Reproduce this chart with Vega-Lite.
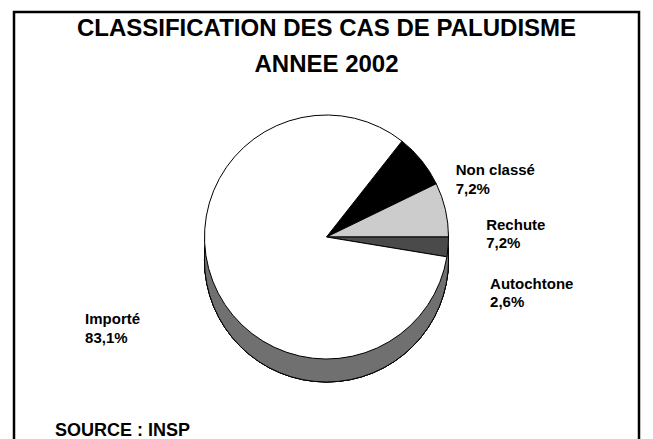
{
  "$schema": "https://vega.github.io/schema/vega-lite/v6.json",
  "width": 653,
  "height": 439,
  "autosize": {"type": "fit", "contains": "padding"},
  "padding": {"left": 14, "right": 14, "top": 12, "bottom": -3},
  "background": "white",
  "view": {"stroke": "black", "strokeWidth": 2.5, "fill": "white"},
  "config": {"view": {"stroke": "black", "strokeWidth": 2.5}, "font": "Liberation Sans"},
  "title": {
    "text": ["CLASSIFICATION DES CAS DE PALUDISME", "ANNEE 2002"],
    "font": "Liberation Sans",
    "fontSize": 24,
    "fontWeight": "bold",
    "color": "black",
    "lineHeight": 36,
    "anchor": "middle",
    "frame": "group",
    "offset": -65
  },
  "data": {
    "values": [
      {"classe": "Non classé", "valeur": 7.2, "ordre": 1, "label": "Non classé\n7,2%"},
      {"classe": "Rechute", "valeur": 7.2, "ordre": 2, "label": "Rechute\n7,2%"},
      {"classe": "Autochtone", "valeur": 2.6, "ordre": 3, "label": "Autochtone\n2,6%"},
      {"classe": "Importé", "valeur": 83.1, "ordre": 4, "label": "Importé\n83,1%"}
    ]
  },
  "layer": [
    {"mark": {"type": "arc", "theta": 0, "theta2": 6.2832, "radius": 122, "fill": "#707070", "yOffset": 14}, "encoding": {}},
    {"mark": {"type": "arc", "theta": 0, "theta2": 6.2832, "radius": 122, "fill": "#707070", "yOffset": 18}, "encoding": {}},
    {"mark": {"type": "arc", "theta": 0, "theta2": 6.2832, "radius": 122, "fill": "#707070", "yOffset": 22}, "encoding": {}},
    {"mark": {"type": "arc", "theta": 0, "theta2": 6.2832, "radius": 122, "fill": "#707070", "yOffset": 26}, "encoding": {}},
    {"mark": {"type": "arc", "theta": 0, "theta2": 6.2832, "radius": 122, "fill": "#707070", "yOffset": 30}, "encoding": {}},
    {"mark": {"type": "arc", "theta": 0, "theta2": 6.2832, "radius": 122, "fill": "#707070", "stroke": "black", "strokeWidth": 1, "yOffset": 33}, "encoding": {}},
    {
      "mark": {"type": "arc", "radius": 122, "stroke": "black", "strokeWidth": 1, "yOffset": 10},
      "encoding": {
        "theta": {"field": "valeur", "type": "quantitative", "stack": true, "scale": {"range": [0.667, 6.95]}},
        "order": {"field": "ordre"},
        "color": {
          "field": "classe",
          "type": "nominal",
          "scale": {"domain": ["Non classé", "Rechute", "Autochtone", "Importé"], "range": ["#000000", "#cccccc", "#4a4a4a", "#ffffff"]},
          "legend": null
        }
      }
    },
    {
      "mark": {"type": "text", "radius": 130, "dx": 28, "dy": 25, "align": "left", "baseline": "middle", "font": "Liberation Sans", "fontWeight": "bold", "fontSize": 15, "lineHeight": 18.5, "lineBreak": "\n", "color": "black"},
      "encoding": {
        "theta": {"field": "valeur", "type": "quantitative", "stack": true},
        "order": {"field": "ordre"},
        "text": {"condition": {"test": "datum.classe === 'Non classé'", "field": "label"}, "value": ""}
      }
    },
    {
      "mark": {"type": "text", "radius": 130, "dx": 33, "dy": 27, "align": "left", "baseline": "middle", "font": "Liberation Sans", "fontWeight": "bold", "fontSize": 15, "lineHeight": 18.5, "lineBreak": "\n", "color": "black"},
      "encoding": {
        "theta": {"field": "valeur", "type": "quantitative", "stack": true},
        "order": {"field": "ordre"},
        "text": {"condition": {"test": "datum.classe === 'Rechute'", "field": "label"}, "value": ""}
      }
    },
    {
      "mark": {"type": "text", "radius": 130, "dx": 34, "dy": 46, "align": "left", "baseline": "middle", "font": "Liberation Sans", "fontWeight": "bold", "fontSize": 15, "lineHeight": 18.5, "lineBreak": "\n", "color": "black"},
      "encoding": {
        "theta": {"field": "valeur", "type": "quantitative", "stack": true},
        "order": {"field": "ordre"},
        "text": {"condition": {"test": "datum.classe === 'Autochtone'", "field": "label"}, "value": ""}
      }
    },
    {
      "mark": {"type": "text", "radius": 200, "dx": -55, "dy": 20, "align": "left", "baseline": "middle", "font": "Liberation Sans", "fontWeight": "bold", "fontSize": 15, "lineHeight": 18.5, "lineBreak": "\n", "color": "black"},
      "encoding": {
        "theta": {"field": "valeur", "type": "quantitative", "stack": true},
        "order": {"field": "ordre"},
        "text": {"condition": {"test": "datum.classe === 'Importé'", "field": "label"}, "value": ""}
      }
    },
    {
      "data": {"values": [{"note": "SOURCE : INSP"}]},
      "mark": {"type": "text", "x": 41, "y": 424, "align": "left", "baseline": "alphabetic", "font": "Liberation Sans", "fontWeight": "bold", "fontSize": 18, "color": "black"},
      "encoding": {"text": {"field": "note"}}
    }
  ]
}
